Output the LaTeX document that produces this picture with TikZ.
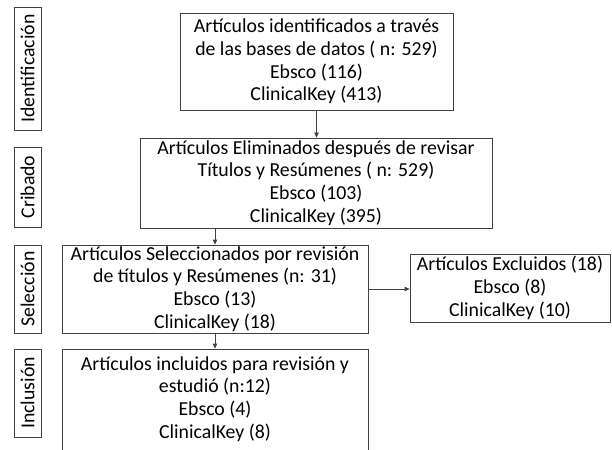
\documentclass[tikz,border=0pt]{standalone}
\usepackage{fontspec}
\setmainfont{Carlito}
\usetikzlibrary{arrows.meta}
\definecolor{lineg}{HTML}{404040}
\tikzset{
  box/.style={draw=lineg, line width=0.8pt, inner sep=0pt, align=center,
    font=\fontsize{19.8}{22.8}\selectfont},
  txt/.style={inner sep=0pt, align=center, font=\fontsize{19.8}{22.8}\selectfont},
  lbl/.style={draw=lineg, line width=0.8pt, inner sep=0pt, rotate=90,
    minimum height=27pt, font=\fontsize{19.8}{22.8}\selectfont},
  arr/.style={draw=lineg, line width=0.8pt, -{Triangle[length=5pt,width=4.5pt]}}
}
\begin{document}
\begin{tikzpicture}[x=1pt,y=-1pt]
\useasboundingbox (0,0) rectangle (612,449);
\clip (0,0) rectangle (612,449);
% stage labels
\node[lbl, minimum width=123pt] (l1) at (27.5,68.5) {Identificación};
\node[lbl, minimum width=80pt] (l2) at (27.5,187) {Cribado};
\node[lbl, minimum width=88pt] (l3) at (27.5,289) {Selección};
\node[lbl, minimum width=88pt] (l4) at (27.5,393) {Inclusión};
% boxes
\node[box, minimum width=273pt, minimum height=97pt] (b1) at (316.5,61.5)
  {Artículos identificados a través\\de las bases de datos ( n: 529)\\Ebsco (116)\\ClinicalKey (413)};
\node[box, minimum width=352pt, minimum height=90pt] (b2) at (316,183)
  {Artículos Eliminados después de revisar\\Títulos y Resúmenes ( n: 529)\\Ebsco (103)\\ClinicalKey (395)};
\node[box, minimum width=306pt, minimum height=88pt] (b3) at (215,289)
  {Artículos Seleccionados por revisión\\de títulos y Resúmenes (n: 31)\\Ebsco (13)\\ClinicalKey (18)};
\node[box, minimum width=200pt, minimum height=68pt] (e) at (510,288)
  {Artículos Excluidos (18)\\Ebsco (8)\\ClinicalKey (10)};
\node[box, minimum width=306pt, minimum height=130pt] (b4) at (215,414) {};
\node[txt] (b4t) at (215,399)
  {Artículos incluidos para revisión y\\estudió (n:12)\\Ebsco (4)\\ClinicalKey (8)};
% connectors
\draw[arr] (b1.south) -- (b2.north -| b1.south);
\draw[arr] (b2.south -| b3.north) -- (b3.north);
\draw[arr] (b3.south) -- (b4.north);
\draw[arr] (b3.east) -- (e.west |- b3.east);
\end{tikzpicture}
\end{document}
